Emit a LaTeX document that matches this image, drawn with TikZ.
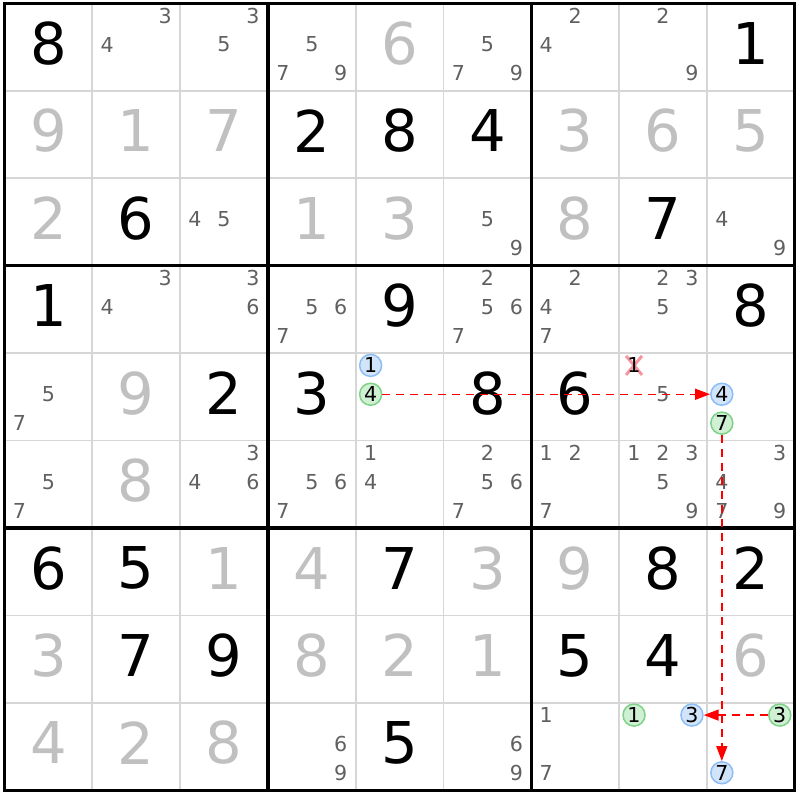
\documentclass[tikz,border=0pt]{standalone}
\usepackage{fontspec}
\setmainfont{DejaVu Sans}
\usepackage{tikz}
\usetikzlibrary{arrows.meta,shapes.misc}
\definecolor{candgray}{RGB}{96,96,96}
\definecolor{solvedgray}{RGB}{192,192,192}
\definecolor{gridgray}{RGB}{214,214,214}
\definecolor{bluefill}{RGB}{210,228,250}
\definecolor{blueline}{RGB}{140,190,245}
\definecolor{greenfill}{RGB}{208,240,212}
\definecolor{greenline}{RGB}{125,210,135}
\definecolor{xpink}{RGB}{245,150,160}

\begin{document}
\begin{tikzpicture}[x=43.9pt,y=43.71pt,yscale=-1,xscale=1,
  given/.style={inner sep=0pt,font=\fontsize{28.8}{34}\selectfont,text=black},
  solved/.style={given,text=solvedgray},
  cand/.style={inner sep=0pt,font=\fontsize{10.3}{12}\selectfont,text=candgray},
  candring/.style={circle,inner sep=0pt,minimum size=11pt,line width=0.75pt,font=\fontsize{10.3}{12}\selectfont,text=black},
  bluering/.style={candring,fill=bluefill,draw=blueline},
  greenring/.style={candring,fill=greenfill,draw=greenline},
  struck/.style={cross out,draw=xpink,line width=1.5pt,minimum width=6.5pt,minimum height=8pt,inner sep=0pt},
  link/.style={red,line width=0.75pt,dash pattern=on 4pt off 3pt,-{Triangle[length=7.5pt,width=5.5pt]}},
  thinline/.style={gridgray,line width=0.9pt},
  boxline/.style={black,line width=1.65pt}]
\useasboundingbox (-0.0513,-0.04) rectangle (9.0604,9.1112);

%Straight Lines (cell borders)
\draw [thinline] (1,0) -- (1,9) ;
\draw [thinline] (2,0) -- (2,9) ;
\draw [thinline] (4,0) -- (4,9) ;
\draw [thinline] (5,0) -- (5,9) ;
\draw [thinline] (7,0) -- (7,9) ;
\draw [thinline] (8,0) -- (8,9) ;
\draw [thinline] (0,1) -- (9,1) ;
\draw [thinline] (0,2) -- (9,2) ;
\draw [thinline] (0,4) -- (9,4) ;
\draw [thinline] (0,5) -- (9,5) ;
\draw [thinline] (0,7) -- (9,7) ;
\draw [thinline] (0,8) -- (9,8) ;
%Straight Lines (box borders)
\draw [boxline] (3,0) -- (3,9) ;
\draw [boxline] (6,0) -- (6,9) ;
\draw [boxline] (0,3) -- (9,3) ;
\draw [boxline] (0,6) -- (9,6) ;
\draw [boxline] (0,0) rectangle (9,9) ;

% Text Node -- row 1
\node [given] (r1c1) at (0.5,0.458) {8};
\node [cand] (r1c2n3) at (1.83,0.14) {3};
\node [cand] (r1c2n4) at (1.17,0.47) {4};
\node [cand] (r1c3n3) at (2.83,0.14) {3};
\node [cand] (r1c3n5) at (2.5,0.47) {5};
\node [cand] (r1c4n5) at (3.5,0.47) {5};
\node [cand] (r1c4n7) at (3.17,0.80) {7};
\node [cand] (r1c4n9) at (3.83,0.80) {9};
\node [solved] (r1c5) at (4.5,0.458) {6};
\node [cand] (r1c6n5) at (5.5,0.47) {5};
\node [cand] (r1c6n7) at (5.17,0.80) {7};
\node [cand] (r1c6n9) at (5.83,0.80) {9};
\node [cand] (r1c7n2) at (6.5,0.14) {2};
\node [cand] (r1c7n4) at (6.17,0.47) {4};
\node [cand] (r1c8n2) at (7.5,0.14) {2};
\node [cand] (r1c8n9) at (7.83,0.80) {9};
\node [given] (r1c9) at (8.5,0.458) {1};
% Text Node -- row 2
\node [solved] (r2c1) at (0.5,1.458) {9};
\node [solved] (r2c2) at (1.5,1.458) {1};
\node [solved] (r2c3) at (2.5,1.458) {7};
\node [given] (r2c4) at (3.5,1.458) {2};
\node [given] (r2c5) at (4.5,1.458) {8};
\node [given] (r2c6) at (5.5,1.458) {4};
\node [solved] (r2c7) at (6.5,1.458) {3};
\node [solved] (r2c8) at (7.5,1.458) {6};
\node [solved] (r2c9) at (8.5,1.458) {5};
% Text Node -- row 3
\node [solved] (r3c1) at (0.5,2.458) {2};
\node [given] (r3c2) at (1.5,2.458) {6};
\node [cand] (r3c3n4) at (2.17,2.47) {4};
\node [cand] (r3c3n5) at (2.5,2.47) {5};
\node [solved] (r3c4) at (3.5,2.458) {1};
\node [solved] (r3c5) at (4.5,2.458) {3};
\node [cand] (r3c6n5) at (5.5,2.47) {5};
\node [cand] (r3c6n9) at (5.83,2.80) {9};
\node [solved] (r3c7) at (6.5,2.458) {8};
\node [given] (r3c8) at (7.5,2.458) {7};
\node [cand] (r3c9n4) at (8.17,2.47) {4};
\node [cand] (r3c9n9) at (8.83,2.80) {9};
% Text Node -- row 4
\node [given] (r4c1) at (0.5,3.458) {1};
\node [cand] (r4c2n3) at (1.83,3.14) {3};
\node [cand] (r4c2n4) at (1.17,3.47) {4};
\node [cand] (r4c3n3) at (2.83,3.14) {3};
\node [cand] (r4c3n6) at (2.83,3.47) {6};
\node [cand] (r4c4n5) at (3.5,3.47) {5};
\node [cand] (r4c4n6) at (3.83,3.47) {6};
\node [cand] (r4c4n7) at (3.17,3.80) {7};
\node [given] (r4c5) at (4.5,3.458) {9};
\node [cand] (r4c6n2) at (5.5,3.14) {2};
\node [cand] (r4c6n5) at (5.5,3.47) {5};
\node [cand] (r4c6n6) at (5.83,3.47) {6};
\node [cand] (r4c6n7) at (5.17,3.80) {7};
\node [cand] (r4c7n2) at (6.5,3.14) {2};
\node [cand] (r4c7n4) at (6.17,3.47) {4};
\node [cand] (r4c7n7) at (6.17,3.80) {7};
\node [cand] (r4c8n2) at (7.5,3.14) {2};
\node [cand] (r4c8n3) at (7.83,3.14) {3};
\node [cand] (r4c8n5) at (7.5,3.47) {5};
\node [given] (r4c9) at (8.5,3.458) {8};
% Text Node -- row 5
\node [cand] (r5c1n5) at (0.5,4.47) {5};
\node [cand] (r5c1n7) at (0.17,4.80) {7};
\node [solved] (r5c2) at (1.5,4.458) {9};
\node [given] (r5c3) at (2.5,4.458) {2};
\node [given] (r5c4) at (3.5,4.458) {3};
\node [bluering] (r5c5n1) at (4.17,4.14) {1};
\node [greenring] (r5c5n4) at (4.17,4.47) {4};
\node [given] (r5c6) at (5.5,4.458) {8};
\node [given] (r5c7) at (6.5,4.458) {6};
\node [struck] (r5c8x) at (7.17,4.14) {};
\node [cand,text=black] (r5c8n1) at (7.17,4.14) {1};
\node [cand] (r5c8n5) at (7.5,4.47) {5};
\node [bluering] (r5c9n4) at (8.17,4.47) {4};
\node [greenring] (r5c9n7) at (8.17,4.80) {7};
% Text Node -- row 6
\node [cand] (r6c1n5) at (0.5,5.47) {5};
\node [cand] (r6c1n7) at (0.17,5.80) {7};
\node [solved] (r6c2) at (1.5,5.458) {8};
\node [cand] (r6c3n3) at (2.83,5.14) {3};
\node [cand] (r6c3n4) at (2.17,5.47) {4};
\node [cand] (r6c3n6) at (2.83,5.47) {6};
\node [cand] (r6c4n5) at (3.5,5.47) {5};
\node [cand] (r6c4n6) at (3.83,5.47) {6};
\node [cand] (r6c4n7) at (3.17,5.80) {7};
\node [cand] (r6c5n1) at (4.17,5.14) {1};
\node [cand] (r6c5n4) at (4.17,5.47) {4};
\node [cand] (r6c6n2) at (5.5,5.14) {2};
\node [cand] (r6c6n5) at (5.5,5.47) {5};
\node [cand] (r6c6n6) at (5.83,5.47) {6};
\node [cand] (r6c6n7) at (5.17,5.80) {7};
\node [cand] (r6c7n1) at (6.17,5.14) {1};
\node [cand] (r6c7n2) at (6.5,5.14) {2};
\node [cand] (r6c7n7) at (6.17,5.80) {7};
\node [cand] (r6c8n1) at (7.17,5.14) {1};
\node [cand] (r6c8n2) at (7.5,5.14) {2};
\node [cand] (r6c8n3) at (7.83,5.14) {3};
\node [cand] (r6c8n5) at (7.5,5.47) {5};
\node [cand] (r6c8n9) at (7.83,5.80) {9};
\node [cand] (r6c9n3) at (8.83,5.14) {3};
\node [cand] (r6c9n4) at (8.17,5.47) {4};
\node [cand] (r6c9n7) at (8.17,5.80) {7};
\node [cand] (r6c9n9) at (8.83,5.80) {9};
% Text Node -- row 7
\node [given] (r7c1) at (0.5,6.458) {6};
\node [given] (r7c2) at (1.5,6.458) {5};
\node [solved] (r7c3) at (2.5,6.458) {1};
\node [solved] (r7c4) at (3.5,6.458) {4};
\node [given] (r7c5) at (4.5,6.458) {7};
\node [solved] (r7c6) at (5.5,6.458) {3};
\node [solved] (r7c7) at (6.5,6.458) {9};
\node [given] (r7c8) at (7.5,6.458) {8};
\node [given] (r7c9) at (8.5,6.458) {2};
% Text Node -- row 8
\node [solved] (r8c1) at (0.5,7.458) {3};
\node [given] (r8c2) at (1.5,7.458) {7};
\node [given] (r8c3) at (2.5,7.458) {9};
\node [solved] (r8c4) at (3.5,7.458) {8};
\node [solved] (r8c5) at (4.5,7.458) {2};
\node [solved] (r8c6) at (5.5,7.458) {1};
\node [given] (r8c7) at (6.5,7.458) {5};
\node [given] (r8c8) at (7.5,7.458) {4};
\node [solved] (r8c9) at (8.5,7.458) {6};
% Text Node -- row 9
\node [solved] (r9c1) at (0.5,8.458) {4};
\node [solved] (r9c2) at (1.5,8.458) {2};
\node [solved] (r9c3) at (2.5,8.458) {8};
\node [cand] (r9c4n6) at (3.83,8.47) {6};
\node [cand] (r9c4n9) at (3.83,8.80) {9};
\node [given] (r9c5) at (4.5,8.458) {5};
\node [cand] (r9c6n6) at (5.83,8.47) {6};
\node [cand] (r9c6n9) at (5.83,8.80) {9};
\node [cand] (r9c7n1) at (6.17,8.14) {1};
\node [cand] (r9c7n7) at (6.17,8.80) {7};
\node [greenring] (r9c8n1) at (7.17,8.14) {1};
\node [bluering] (r9c8n3) at (7.83,8.14) {3};
\node [greenring] (r9c9n3) at (8.83,8.14) {3};
\node [bluering] (r9c9n7) at (8.17,8.80) {7};

%Straight Lines (chain links)
\draw [link] (r5c5n4) -- (r5c9n4) ;
\draw [link] (r5c9n7) -- (r9c9n7) ;
\draw [link] (r9c9n3) -- (r9c8n3) ;
\end{tikzpicture}
\end{document}
